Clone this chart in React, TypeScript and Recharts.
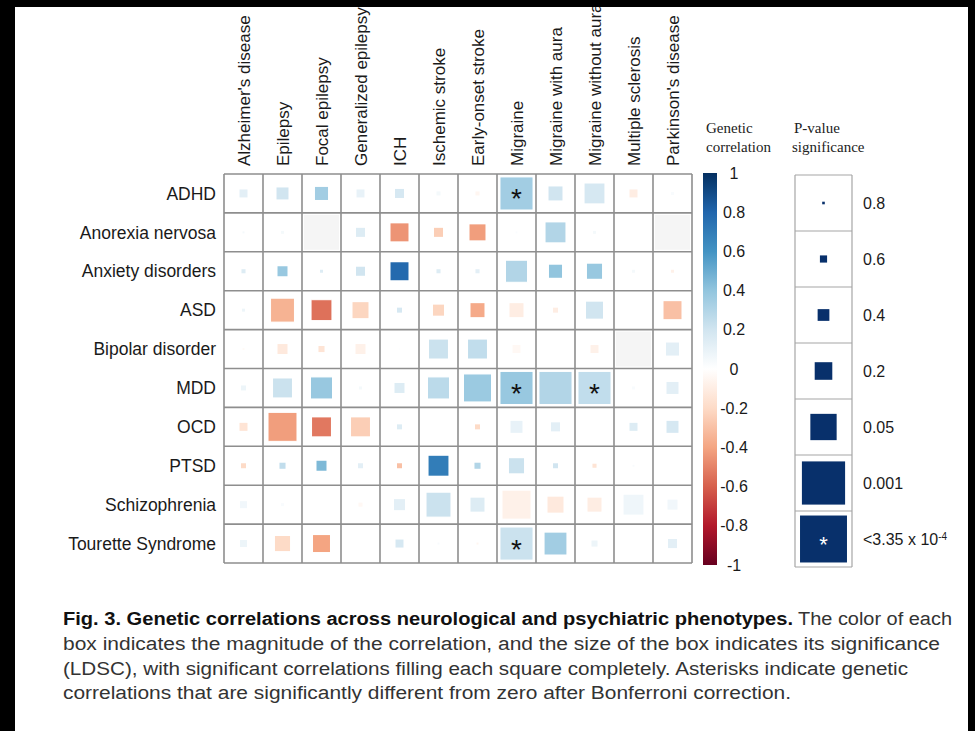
import {
  Bar,
  BarChart,
  ReferenceLine,
  Scatter,
  ScatterChart,
  XAxis,
  YAxis,
} from "recharts";

const W = 975;
const H = 731;

const PHENOTYPES = [
  "Alzheimer's disease",
  "Epilepsy",
  "Focal epilepsy",
  "Generalized epilepsy",
  "ICH",
  "Ischemic stroke",
  "Early-onset stroke",
  "Migraine",
  "Migraine with aura",
  "Migraine without aura",
  "Multiple sclerosis",
  "Parkinson's disease",
];

const DISORDERS = [
  "ADHD",
  "Anorexia nervosa",
  "Anxiety disorders",
  "ASD",
  "Bipolar disorder",
  "MDD",
  "OCD",
  "PTSD",
  "Schizophrenia",
  "Tourette Syndrome",
];

// genetic correlation, rows = DISORDERS, cols = PHENOTYPES (null = not estimated)
const RG: (number | null)[][] = [
  [0.12, 0.2, 0.35, 0.1, 0.18, 0.05, -0.05, 0.35, 0.2, 0.18, -0.1, 0.03],
  [0.05, 0.05, null, 0.15, -0.45, -0.25, -0.42, 0.02, 0.3, 0.05, 0, null],
  [0.15, 0.38, 0.15, 0.2, 0.78, 0.15, 0.12, 0.3, 0.4, 0.38, 0.05, -0.08],
  [0.08, -0.35, -0.55, -0.22, 0.18, -0.22, -0.38, -0.1, -0.1, 0.2, 0, -0.3],
  [-0.03, -0.12, -0.15, -0.08, 0.02, 0.22, 0.25, -0.04, 0, -0.08, null, 0.12],
  [0.08, 0.22, 0.38, 0.05, 0.15, 0.27, 0.37, 0.38, 0.3, 0.25, 0.03, 0.12],
  [-0.15, -0.42, -0.53, -0.25, 0.15, 0, -0.2, 0.1, 0.12, 0, 0.15, 0.18],
  [-0.2, 0.25, 0.45, 0.12, -0.3, 0.7, 0.3, 0.22, 0.2, -0.15, 0.03, 0],
  [0.06, 0.03, 0, -0.04, 0.12, 0.22, 0.15, -0.08, -0.12, -0.1, 0.07, 0.06],
  [0.08, -0.2, -0.4, 0, 0.18, 0.03, -0.05, 0.22, 0.35, 0.08, 0, 0.12],
];

// LDSC p-values, same layout
const PVAL: (number | null)[][] = [
  [0.41, 0.21, 0.17, 0.41, 0.35, 0.66, 0.66, 2e-4, 0.14, 0.024, 0.41, 0.73],
  [0.79, 0.73, null, 0.35, 0.054, 0.35, 0.089, 0.79, 0.032, 0.73, 0.85, null],
  [0.66, 0.3, 0.73, 0.35, 0.054, 0.66, 0.66, 0.017, 0.17, 0.11, 0.73, 0.73],
  [0.73, 0.0093, 0.024, 0.089, 0.6, 0.25, 0.14, 0.14, 0.6, 0.07, 0.79, 0.054],
  [0.79, 0.3, 0.53, 0.3, 0.85, 0.042, 0.042, 0.41, 0.95, 0.41, null, 0.17],
  [0.6, 0.042, 0.017, 0.73, 0.3, 0.017, 0.0022, 1e-5, 2e-4, 1e-4, 0.73, 0.21],
  [0.41, 0.0015, 0.042, 0.042, 0.6, 0.85, 0.6, 0.21, 0.35, 0.79, 0.41, 0.21],
  [0.6, 0.53, 0.3, 0.6, 0.6, 0.032, 0.53, 0.11, 0.6, 0.66, 0.79, 0.85],
  [0.47, 0.73, 0.95, 0.66, 0.25, 0.0066, 0.14, 0.0015, 0.089, 0.14, 0.024, 0.3],
  [0.47, 0.11, 0.07, 0.95, 0.41, 0.79, 0.79, 2e-4, 0.013, 0.53, 0.85, 0.35],
];

// [row, col] of correlations passing Bonferroni
const STARRED = [
  [0, 7],
  [5, 7],
  [5, 9],
  [9, 7],
];

const COLOR_TICKS = [1, 0.8, 0.6, 0.4, 0.2, 0, -0.2, -0.4, -0.6, -0.8, -1];
const COLOR_RANGE = [{ key: "rg", range: [-1, 1] }];
const RDBU = [
  "#67001F", "#B2182B", "#D6604D", "#F4A582", "#FDDBC7", "#FFFFFF",
  "#D1E5F0", "#92C5DE", "#4393C3", "#2166AC", "#053061",
];

const P_KEY = [0.8, 0.6, 0.4, 0.2, 0.05, 0.001, 3.35e-4];
const P_KEY_LABELS = ["0.8", "0.6", "0.4", "0.2", "0.05", "0.001", "<3.35 x 10"];

// layout
const GRID = { left: 224, top: 174, right: 692, bottom: 563 };
const CELL_W = (GRID.right - GRID.left) / PHENOTYPES.length;
const CELL_H = (GRID.bottom - GRID.top) / DISORDERS.length;
const KEY = { left: 795, right: 852, top: 175, bottom: 567 };
const BAR = { left: 703, right: 717, top: 173, bottom: 565 };

const SANS = "'Liberation Sans', Arial, Helvetica, sans-serif";
const SERIF = "'Liberation Serif', 'Times New Roman', serif";

function hexToRgb(h: string) {
  const n = parseInt(h.slice(1), 16);
  return [(n >> 16) & 255, (n >> 8) & 255, n & 255];
}

function rgColor(v: number) {
  const t = Math.max(0, Math.min(1, (v + 1) / 2)) * (RDBU.length - 1);
  const i = Math.min(RDBU.length - 2, Math.floor(t));
  const f = t - i;
  const a = hexToRgb(RDBU[i]);
  const b = hexToRgb(RDBU[i + 1]);
  const c = a.map((x, k) => Math.round(x + (b[k] - x) * f));
  return `rgb(${c[0]},${c[1]},${c[2]})`;
}

// box side as a fraction of the cell, grows with -log10(p)
function boxFrac(p: number) {
  const s = 0.51 * (Math.sqrt(-Math.log10(p)) - 0.22);
  return Math.max(0, Math.min(0.85, s));
}

const CELLS = DISORDERS.flatMap((_, r) =>
  PHENOTYPES.map((_, c) => ({
    row: r,
    col: c,
    rg: RG[r][c],
    p: PVAL[r][c],
    star: STARRED.some(([sr, sc]) => sr === r && sc === c),
  }))
);

const KEY_POINTS = P_KEY.map((p, i) => ({ x: 0.5, y: i, p, star: i === P_KEY.length - 1 }));

const colEdges = Array.from({ length: PHENOTYPES.length + 1 }, (_, i) => i - 0.5);
const rowEdges = Array.from({ length: DISORDERS.length + 1 }, (_, i) => i - 0.5);
const keyEdges = Array.from({ length: P_KEY.length + 1 }, (_, i) => i - 0.5);

function CellBox(props: any) {
  const { cx, cy, payload } = props;
  if (cx == null || cy == null) return <g />;
  if (payload.rg == null) {
    return (
      <rect x={cx - CELL_W / 2 + 2} y={cy - CELL_H / 2 + 2} width={CELL_W - 4} height={CELL_H - 4} fill="#f5f5f5" />
    );
  }
  const side = Math.min(CELL_W, CELL_H) * boxFrac(payload.p);
  return (
    <g>
      {side > 0.4 && (
        <rect
          x={cx - side / 2}
          y={cy - side / 2}
          width={side}
          height={side}
          fill={rgColor(payload.rg)}
          stroke="#ffffff"
          strokeWidth={side > 20 ? 1 : 0}
        />
      )}
      {payload.star && (
        <text x={cx} y={cy + 15} textAnchor="middle" fontSize={28} fontFamily={SANS} fill="#111">
          *
        </text>
      )}
    </g>
  );
}

function KeyBox(props: any) {
  const { cx, cy, payload } = props;
  if (cx == null || cy == null) return <g />;
  const boxH = (KEY.bottom - KEY.top) / P_KEY.length;
  const side = Math.min(KEY.right - KEY.left, boxH) * boxFrac(payload.p);
  return (
    <g>
      <rect x={cx - side / 2} y={cy - side / 2} width={side} height={side} fill="#08306b" />
      {payload.star && (
        <text x={cx} y={cy + 13} textAnchor="middle" fontSize={22} fontFamily={SANS} fill="#fff">
          *
        </text>
      )}
    </g>
  );
}

function ColTick(props: any) {
  const { x, payload } = props;
  const bx = x + 6;
  const by = GRID.top - 8;
  return (
    <text
      x={bx}
      y={by}
      transform={`rotate(-90, ${bx}, ${by})`}
      textAnchor="start"
      fontSize={17}
      fontFamily={SANS}
      fill="#1a1a1a"
    >
      {PHENOTYPES[payload.value]}
    </text>
  );
}

function KeyTick(props: any) {
  const { y, payload } = props;
  const i = payload.value;
  const last = i === P_KEY.length - 1;
  return (
    <text x={KEY.right + 11} y={y} dy="0.355em" fontSize={16} fontFamily={SANS} fill="#1a1a1a">
      {P_KEY_LABELS[i]}
      {last && (
        <tspan dy="-0.45em" fontSize={10}>
          -4
        </tspan>
      )}
    </text>
  );
}

function BarTick(props: any) {
  const { y, payload } = props;
  return (
    <text x={BAR.right + 17} y={y} dy="0.355em" textAnchor="middle" fontSize={16} fontFamily={SANS} fill="#1a1a1a">
      {String(payload.value)}
    </text>
  );
}

const layer = { position: "absolute" as const, left: 0, top: 0 };

export default function App() {
  return (
    <div style={{ position: "relative", width: W, height: H, background: "#fff", overflow: "hidden" }}>
      <style>{`body{margin:0}`}</style>

      <ScatterChart
        width={W}
        height={H}
        style={layer}
        margin={{ left: 15, top: GRID.top - 160, right: W - GRID.right, bottom: H - GRID.bottom }}
      >
        <XAxis
          type="number"
          dataKey="col"
          orientation="top"
          height={160}
          domain={[-0.5, PHENOTYPES.length - 0.5]}
          ticks={PHENOTYPES.map((_, i) => i)}
          interval={0}
          axisLine={false}
          tickLine={false}
          tick={(p: any) => <ColTick {...p} />}
        />
        <YAxis
          type="number"
          dataKey="row"
          width={GRID.left - 15}
          reversed
          domain={[-0.5, DISORDERS.length - 0.5]}
          ticks={DISORDERS.map((_, i) => i)}
          interval={0}
          axisLine={false}
          tickLine={false}
          tickFormatter={(v: number) => DISORDERS[v]}
          tick={{ fontSize: 17.5, fill: "#1a1a1a", fontFamily: SANS }}
        />
        <Scatter data={CELLS} shape={CellBox} isAnimationActive={false} />
        {colEdges.map((v) => (
          <ReferenceLine key={`c${v}`} x={v} stroke="#8e8e8e" strokeWidth={1.6} />
        ))}
        {rowEdges.map((v) => (
          <ReferenceLine key={`r${v}`} y={v} stroke="#8e8e8e" strokeWidth={1.6} />
        ))}
      </ScatterChart>

      {/* colour bar: one ranged bar from -1 to 1 filled with the RdBu ramp */}
      <BarChart
        width={W}
        height={H}
        style={layer}
        data={COLOR_RANGE}
        barCategoryGap={0}
        margin={{ left: BAR.left, top: BAR.top, right: W - BAR.right - 40, bottom: H - BAR.bottom }}
      >
        <defs>
          <linearGradient id="rdbu" x1="0" y1="0" x2="0" y2="1">
            {RDBU.slice()
              .reverse()
              .map((c, i) => (
                <stop key={c} offset={`${(i / (RDBU.length - 1)) * 100}%`} stopColor={c} />
              ))}
          </linearGradient>
        </defs>
        <XAxis dataKey="key" hide />
        <YAxis
          type="number"
          orientation="right"
          width={40}
          domain={[-1, 1]}
          ticks={COLOR_TICKS}
          interval={0}
          axisLine={false}
          tickLine={false}
          tick={(p: any) => <BarTick {...p} />}
        />
        <Bar dataKey="range" fill="url(#rdbu)" isAnimationActive={false} />
      </BarChart>

      <ScatterChart
        width={W}
        height={H}
        style={layer}
        margin={{ left: KEY.left, top: KEY.top, right: W - KEY.right - 110, bottom: H - KEY.bottom }}
      >
        <XAxis type="number" dataKey="x" domain={[0, 1]} hide />
        <YAxis
          type="number"
          dataKey="y"
          orientation="right"
          width={110}
          reversed
          domain={[-0.5, P_KEY.length - 0.5]}
          ticks={P_KEY.map((_, i) => i)}
          interval={0}
          axisLine={false}
          tickLine={false}
          tick={(p: any) => <KeyTick {...p} />}
        />
        <Scatter data={KEY_POINTS} shape={KeyBox} isAnimationActive={false} />
        {[0, 1].map((v) => (
          <ReferenceLine key={`kx${v}`} x={v} stroke="#a6a6a6" strokeWidth={1.2} />
        ))}
        {keyEdges.map((v) => (
          <ReferenceLine key={`ky${v}`} y={v} stroke="#a6a6a6" strokeWidth={1.2} />
        ))}
      </ScatterChart>

      <svg width={W} height={H} style={{ ...layer, pointerEvents: "none" }}>
        <g fontFamily={SERIF} fontSize={15} fill="#222">
          <text x={706} y={133}>Genetic</text>
          <text x={706} y={152}>correlation</text>
          <text x={794} y={133}>P-value</text>
          <text x={792} y={152}>significance</text>
        </g>

        <g fontFamily={SANS} fontSize={18} fill="#333">
          <text x={63} y={625} fontWeight="bold" fill="#111" textLength={730} lengthAdjust="spacingAndGlyphs">
            Fig. 3. Genetic correlations across neurological and psychiatric phenotypes.
          </text>
          <text x={798} y={625} textLength={154} lengthAdjust="spacingAndGlyphs">
            The color of each
          </text>
          <text x={63} y={650} textLength={877} lengthAdjust="spacingAndGlyphs">
            box indicates the magnitude of the correlation, and the size of the box indicates its significance
          </text>
          <text x={63} y={675} textLength={845} lengthAdjust="spacingAndGlyphs">
            (LDSC), with significant correlations filling each square completely. Asterisks indicate genetic
          </text>
          <text x={63} y={699} textLength={728} lengthAdjust="spacingAndGlyphs">
            correlations that are significantly different from zero after Bonferroni correction.
          </text>
        </g>

        <rect x={0} y={0} width={W} height={7} fill="#000" />
        <rect x={0} y={0} width={15} height={H} fill="#000" />
        <rect x={968} y={0} width={W - 968} height={H} fill="#000" />
      </svg>
    </div>
  );
}
